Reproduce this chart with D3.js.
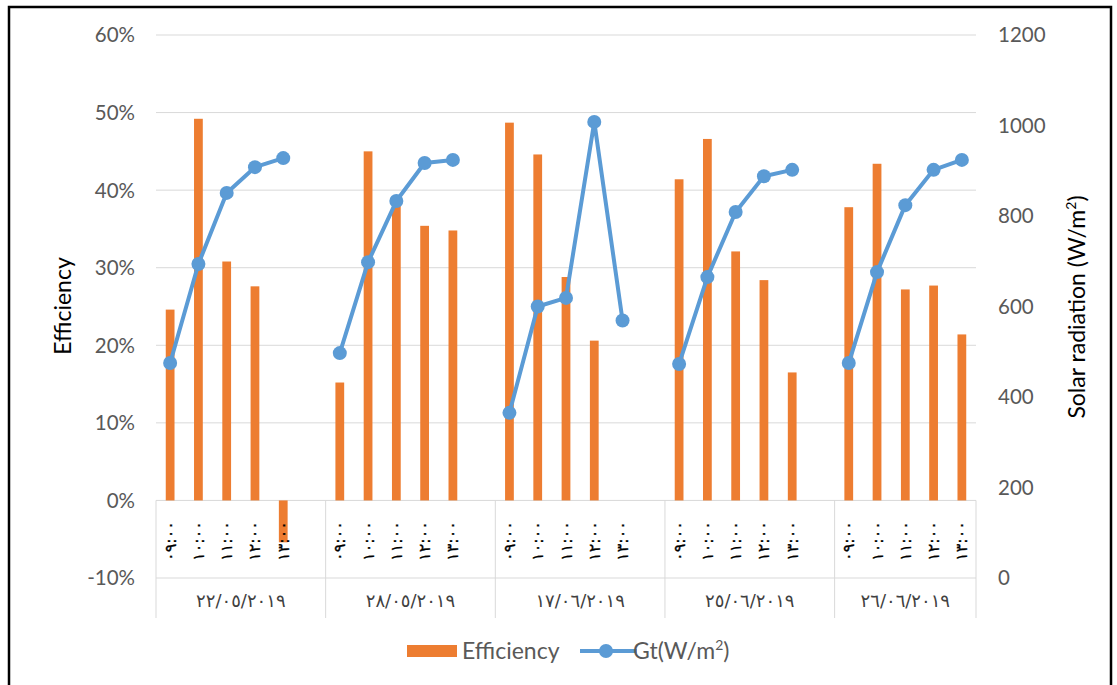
<!DOCTYPE html>
<html>
<head>
<meta charset="utf-8">
<script src="https://cdn.jsdelivr.net/npm/d3@7"></script>
<style>
  html, body { margin: 0; padding: 0; background: #fff; }
  svg { display: block; }
  .tick-lbl { font-family: Lato, "Liberation Sans", sans-serif; font-size: 20.5px; fill: #595959; }
  .axis-title { font-family: Lato, "Liberation Sans", sans-serif; font-size: 23px; fill: #000; }
  .legend-lbl { font-family: Lato, "Liberation Sans", sans-serif; font-size: 23px; fill: #595959; }
  .ar { font-family: "DejaVu Sans", sans-serif; direction: ltr; unicode-bidi: bidi-override; }
</style>
</head>
<body>
<svg id="chart" width="1117" height="685"></svg>
<script>
// Measurement days and hours (Arabic-Indic numerals)
const dates = ["٢٢/٠٥/٢٠١٩", "٢٨/٠٥/٢٠١٩", "١٧/٠٦/٢٠١٩", "٢٥/٠٦/٢٠١٩", "٢٦/٠٦/٢٠١٩"];
const times = ["٠٩:٠٠", "١٠:٠٠", "١١:٠٠", "١٢:٠٠", "١٣:٠٠"];

// Efficiency per day, one value per hour
const efficiency = [
  [0.246, 0.492, 0.308, 0.276, -0.054],
  [0.152, 0.450, 0.380, 0.354, 0.348],
  [0.487, 0.446, 0.288, 0.206, null],
  [0.414, 0.466, 0.321, 0.284, 0.165],
  [0.378, 0.434, 0.272, 0.277, 0.214]
];

// Global solar radiation Gt (W/m²) per day, one value per hour
const radiation = [
  [475, 694, 851, 908, 928],
  [497, 698, 833, 917, 924],
  [365, 600, 619, 1008, 569],
  [473, 665, 809, 888, 902],
  [475, 676, 824, 902, 924]
];

const effTicks = [-0.1, 0, 0.1, 0.2, 0.3, 0.4, 0.5, 0.6];
const radTicks = [0, 200, 400, 600, 800, 1000, 1200];

// Flatten into slots; an empty slot separates consecutive days
const slots = [];
dates.forEach((d, i) => {
  times.forEach((t, j) => {
    slots.push({ day: i, time: t, eff: efficiency[i][j], gt: radiation[i][j], gap: false });
  });
  if (i < dates.length - 1) slots.push({ day: i, gap: true, eff: null, gt: null });
});
slots.forEach((s, k) => s.idx = k);

const svg = d3.select("#chart");
const plotL = 156, plotR = 976, plotT = 35, plotB = 578;

const x = d3.scaleBand().domain(slots.map(s => s.idx)).range([plotL, plotR]).padding(0);
const yL = d3.scaleLinear().domain([-0.1, 0.6]).range([plotB, plotT]);
const yR = d3.scaleLinear().domain([0, 1200]).range([plotB, plotT]);

const gridColor = "#d9d9d9";
const pct = d3.format(".0%");

// Outer frame
svg.append("rect")
  .attr("x", 9).attr("y", 7).attr("width", 1102).attr("height", 700)
  .attr("fill", "none").attr("stroke", "#000").attr("stroke-width", 2.5);

// Horizontal gridlines
svg.append("g").selectAll("line").data(effTicks).join("line")
  .attr("x1", plotL).attr("x2", plotR)
  .attr("y1", d => yL(d)).attr("y2", d => yL(d))
  .attr("stroke", gridColor).attr("stroke-width", 1);

// Left axis labels
svg.append("g").selectAll("text").data(effTicks).join("text")
  .attr("class", "tick-lbl")
  .attr("x", 135).attr("y", d => yL(d)).attr("dy", "0.36em")
  .attr("text-anchor", "end")
  .text(d => pct(d).replace("\u2212", "-"));

// Right axis labels
svg.append("g").selectAll("text").data(radTicks).join("text")
  .attr("class", "tick-lbl")
  .attr("x", 998).attr("y", d => yR(d)).attr("dy", "0.36em")
  .attr("text-anchor", "start")
  .text(d => d);

// Axis titles
svg.append("text").attr("class", "axis-title")
  .attr("transform", "translate(71,306) rotate(-90)")
  .attr("text-anchor", "middle")
  .text("Efficiency");

const rt = svg.append("text").attr("class", "axis-title")
  .attr("transform", "translate(1085,307) rotate(-90)")
  .attr("text-anchor", "middle");
rt.append("tspan").text("Solar radiation (W/m");
rt.append("tspan").attr("font-size", "14px").attr("dy", "-9").text("2");
rt.append("tspan").attr("dy", "9").text(")");

// Category box: separators between days
const dayBounds = dates.map((d, i) => {
  const ds = slots.filter(s => s.day === i);
  const a = x(ds[0].idx);
  const b = x(ds[ds.length - 1].idx) + x.bandwidth();
  return { i, a, b };
});
const sepX = [plotL].concat(dayBounds.map(b => b.b));
svg.append("g").selectAll("line").data(sepX).join("line")
  .attr("x1", d => d).attr("x2", d => d)
  .attr("y1", yL(0)).attr("y2", 618)
  .attr("stroke", gridColor).attr("stroke-width", 1);

// Efficiency bars
const barW = x.bandwidth() * 0.31;
svg.append("g").selectAll("rect")
  .data(slots.filter(s => !s.gap && s.eff !== null))
  .join("rect")
  .attr("x", d => x(d.idx) + x.bandwidth() / 2 - barW / 2)
  .attr("width", barW)
  .attr("y", d => yL(Math.max(0, d.eff)))
  .attr("height", d => Math.abs(yL(d.eff) - yL(0)))
  .attr("fill", "#ED7D31");

// Hour labels (rotated)
svg.append("g").selectAll("text")
  .data(slots.filter(s => !s.gap))
  .join("text")
  .attr("class", "ar")
  .attr("font-size", "16px")
  .attr("fill", "#000")
  .attr("stroke", "#000")
  .attr("stroke-width", 0.3)
  .attr("text-anchor", "middle")
  .attr("dominant-baseline", "central")
  .attr("transform", d => `translate(${x(d.idx) + x.bandwidth() / 2},541) rotate(-90)`)
  .attr("letter-spacing", "2.5px")
  .text(d => d.time);

// Day labels
svg.append("g").selectAll("text")
  .data(dayBounds)
  .join("text")
  .attr("class", "ar")
  .attr("font-size", "18px")
  .attr("fill", "#404040")
  .attr("text-anchor", "middle")
  .attr("x", d => (d.a + d.b) / 2)
  .attr("y", 607)
  .attr("letter-spacing", "1.5px")
  .text(d => dates[d.i]);

// Radiation line (broken between days)
const lineGen = d3.line()
  .defined(d => d.gt !== null)
  .x(d => x(d.idx) + x.bandwidth() / 2)
  .y(d => yR(d.gt));
const blue = "#5B9BD5";
svg.append("path")
  .datum(slots)
  .attr("d", lineGen)
  .attr("fill", "none")
  .attr("stroke", blue)
  .attr("stroke-width", 4)
  .attr("stroke-linejoin", "round");
svg.append("g").selectAll("circle")
  .data(slots.filter(s => s.gt !== null))
  .join("circle")
  .attr("cx", d => x(d.idx) + x.bandwidth() / 2)
  .attr("cy", d => yR(d.gt))
  .attr("r", 7)
  .attr("fill", blue);

// Legend
const lg = svg.append("g");
lg.append("rect").attr("x", 407).attr("y", 645).attr("width", 50).attr("height", 12).attr("fill", "#ED7D31");
lg.append("text").attr("class", "legend-lbl")
  .attr("x", 462).attr("y", 659).text("Efficiency");
lg.append("line").attr("x1", 580).attr("x2", 637).attr("y1", 651).attr("y2", 651)
  .attr("stroke", blue).attr("stroke-width", 4);
lg.append("circle").attr("cx", 606).attr("cy", 651).attr("r", 7).attr("fill", blue);
const lt = lg.append("text").attr("class", "legend-lbl")
  .attr("x", 633).attr("y", 659);
lt.append("tspan").text("Gt(W/m");
lt.append("tspan").attr("font-size", "14px").attr("dy", "-9").text("2");
lt.append("tspan").attr("dy", "9").text(")");
</script>
</body>
</html>
